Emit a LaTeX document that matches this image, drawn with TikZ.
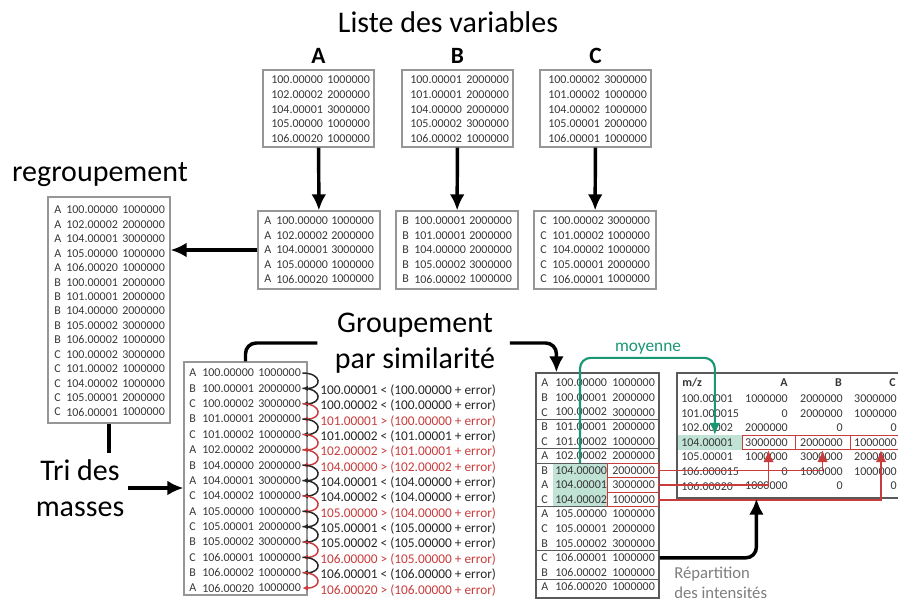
\documentclass[tikz,border=0pt]{standalone}
\usepackage{fontspec}
\setmainfont{Carlito}
\usetikzlibrary{arrows.meta, fit, calc, positioning}

\definecolor{boxgray}{RGB}{150,150,150}
\definecolor{darkbox}{RGB}{90,90,90}
\definecolor{txtgray}{RGB}{55,55,55}
\definecolor{errred}{RGB}{200,60,60}
\definecolor{moygreen}{RGB}{25,150,115}
\definecolor{moyfill}{RGB}{192,227,214}
\definecolor{notegray}{RGB}{125,125,125}

\tikzset{
  tbl/.style={draw=boxgray, line width=0.8pt, inner sep=0pt},
  tbldark/.style={draw=darkbox, line width=0.9pt, inner sep=0pt},
  cell/.style={font=\fontsize{9}{10}\selectfont, text=txtgray, inner sep=0pt, anchor=west},
  cellr/.style={cell, anchor=east},
  cellb/.style={font=\fontsize{9}{10}\bfseries\selectfont, text=txtgray, inner sep=0pt},
  cmp/.style={font=\fontsize{10}{11}\selectfont, inner sep=0pt, anchor=west},
  big/.style={font=\fontsize{22.5}{27}\selectfont, align=center, inner sep=3pt},
  head/.style={font=\fontsize{17.5}{20}\bfseries\selectfont},
  note/.style={font=\fontsize{12.5}{15}\selectfont, text=notegray, align=left, inner sep=0pt},
  redbox/.style={draw=errred, line width=0.6pt, inner sep=0pt},
  hilite/.style={fill=moyfill, inner sep=0pt},
  bigline/.style={line width=2.6pt},
  bigarrow/.style={bigline, -{Latex[length=12pt,width=11pt]}},
  curl/.style={line width=1.1pt, -{Latex[length=4pt,width=4pt]}},
  redarrow/.style={errred, line width=1.4pt, -{Latex[length=9pt,width=8pt]}},
  greenarrow/.style={moygreen, line width=1.6pt, -{Latex[length=9pt,width=8pt]}}
}

\begin{document}
\begin{tikzpicture}[x=0.75pt, y=-0.75pt]
  \useasboundingbox (0,0) rectangle (898,604);

  \node[big] (title) at (448,22) {Liste des variables};

  \foreach \t/\xa/\xb/\rows in {
      A/263/258/{100.00000/1000000, 102.00002/2000000, 104.00001/3000000, 105.00000/1000000, 106.00020/1000000},
      B/402/396/{100.00001/2000000, 101.00001/2000000, 104.00000/2000000, 105.00002/3000000, 106.00002/1000000},
      C/540/534/{100.00002/3000000, 101.00002/1000000, 104.00002/1000000, 105.00001/2000000, 106.00001/1000000}} {
    \node[head] (lab\t) at (\xa+55.5,56) {\t};
    \node[tbl, fit={(\xa,70) (\xa+111,147)}] (top\t) {};
    \node[tbl, fit={(\xb,211) (\xb+122,289)}] (mid\t) {};
    \foreach \m/\v [count=\i] in \rows {
      \node[cell] (top\t-m\i) at (\xa+8, 65.4+14.6*\i) {\m};
      \node[cell] (top\t-v\i) at (\xa+64, 65.4+14.6*\i) {\v};
      \node[cell] (mid\t-l\i) at (\xb+6, 206.5+14.5*\i) {\t};
      \node[cell] (mid\t-m\i) at (\xb+18, 206.5+14.5*\i) {\m};
      \node[cell] (mid\t-v\i) at (\xb+73, 206.5+14.5*\i) {\v};
    }
    \draw[bigarrow] (top\t) -- (mid\t);
  }

  \node[big] (regtitle) at (100,175) {regroupement};
  \node[tbl, fit={(48,197) (170,423)}] (regroup) {};
  \foreach \l/\m/\v [count=\i] in {A/100.00000/1000000, A/102.00002/2000000, A/104.00001/3000000, A/105.00000/1000000, A/106.00020/1000000,
      B/100.00001/2000000, B/101.00001/2000000, B/104.00000/2000000, B/105.00002/3000000, B/106.00002/1000000,
      C/100.00002/3000000, C/101.00002/1000000, C/104.00002/1000000, C/105.00001/2000000, C/106.00001/1000000} {
    \node[cell] (reg-l\i) at (54, 195.6+14.43*\i) {\l};
    \node[cell] (reg-m\i) at (66, 195.6+14.43*\i) {\m};
    \node[cell] (reg-v\i) at (122, 195.6+14.43*\i) {\v};
  }
  \draw[bigarrow] (midA.west) -- (midA.west -| regroup.east);
  \coordinate (regend) at (109,453);
  \draw[bigline] (regroup.south) -- (regend);

  \node[hilite, fit={(553,463.1) (607,506.9)}] (gmass) {};
  \node[tbl, fit={(184,362) (307,595)}] (sorted) {};
  \node[tbldark, fit={(536,373) (659,598)}] (grouped) {};
  \foreach \l/\m/\v [count=\i] in {A/100.00000/1000000, B/100.00001/2000000, C/100.00002/3000000, B/101.00001/2000000, C/101.00002/1000000,
      A/102.00002/2000000, B/104.00000/2000000, A/104.00001/3000000, C/104.00002/1000000, A/105.00000/1000000,
      C/105.00001/2000000, B/105.00002/3000000, C/106.00001/1000000, B/106.00002/1000000, A/106.00020/1000000} {
    \node[cell] (srt-l\i) at (189, 357.64+15.36*\i) {\l};
    \node[cell] (srt-m\i) at (202, 357.64+15.36*\i) {\m};
    \node[cell] (srt-v\i) at (258, 357.64+15.36*\i) {\v};
    \node[cell] (grp-l\i) at (541, 368.43+14.57*\i) {\l};
    \node[cell] (grp-m\i) at (555, 368.43+14.57*\i) {\m};
    \node[cell] (grp-v\i) at (612, 368.43+14.57*\i) {\v};
  }
  \foreach \k in {3,5,6,9,12,14}
    \draw[darkbox, line width=0.6pt] (536, 375.7+14.57*\k) -- (659, 375.7+14.57*\k);
  \foreach \k in {7,8,9}
    \node[redbox, fit={(607, 361.15+14.57*\k) (658, 375.72+14.57*\k)}] (rb\k) {};

  \node[big] (tri) at (80,488) {Tri des\\masses};
  \draw[bigarrow] (tri.east) -- (tri.east -| sorted.west);

  \foreach \c/\col [count=\i] in {{100.00001 < (100.00000 + error)}/black!85, {100.00002 < (100.00000 + error)}/black!85,
      {101.00001 > (100.00000 + error)}/errred, {101.00002 < (101.00001 + error)}/black!85,
      {102.00002 > (101.00001 + error)}/errred, {104.00000 > (102.00002 + error)}/errred,
      {104.00001 < (104.00000 + error)}/black!85, {104.00002 < (104.00000 + error)}/black!85,
      {105.00000 > (104.00000 + error)}/errred, {105.00001 < (105.00000 + error)}/black!85,
      {105.00002 < (105.00000 + error)}/black!85, {106.00000 > (105.00000 + error)}/errred,
      {106.00001 < (106.00000 + error)}/black!85, {106.00020 > (106.00000 + error)}/errred} {
    \pgfmathtruncatemacro\j{\i+1}
    \node[cmp, text=\col] (cmp\i) at (320, 375+15.36*\i) {\c};
    \draw[curl, \col] ([xshift=1pt]srt-v\i.east) .. controls +(15pt,0) and +(15pt,0) .. ([xshift=1pt]srt-v\j.east);
  }

  \node[big] (grptxt) at (415,343) {Groupement\\par similarité};
  \coordinate (grpin) at ($(grouped.north west)+(21,0)$);
  \draw[bigline, rounded corners=8pt] (sorted.north) |- ([xshift=-10pt]grptxt.west);
  \draw[bigarrow, rounded corners=8pt] ([xshift=8pt]grptxt.east) -| (grpin);

  \node[hilite, fit={(677,435.25) (742,449.75)}] (gmz) {};
  \node[tbldark, fit={(677,373) (912,498)}] (mztab) {};
  \node[cellb, anchor=west] (mzh) at (682,383) {m/z};
  \foreach \t/\x in {A/788, B/842, C/896}
    \node[cellb, anchor=east] (mzh\t) at (\x,383) {\t};
  \foreach \m/\a/\b/\c [count=\i] in {100.00001/1000000/2000000/3000000, 101.000015/0/2000000/1000000,
      102.00002/2000000/0/0, 104.00001/3000000/2000000/1000000, 105.00001/1000000/3000000/2000000,
      106.000015/0/1000000/1000000, 106.00020/1000000/0/0} {
    \node[cell] (mz-m\i) at (681, 384.5+14.5*\i) {\m};
    \node[cellr] (mz-a\i) at (788, 384.5+14.5*\i) {\a};
    \node[cellr] (mz-b\i) at (843, 384.5+14.5*\i) {\b};
    \node[cellr] (mz-c\i) at (897, 384.5+14.5*\i) {\c};
  }
  \node[redbox, fit={(742,435.25) (795,449.75)}] (mzrA) {};
  \node[redbox, fit={(795,435.25) (850,449.75)}] (mzrB) {};
  \node[redbox, fit={(850,435.25) (912,449.75)}] (mzrC) {};

  \draw[redarrow] (rb7.east) -| (mzrB.south);
  \draw[redarrow] (rb8.east) -| (mzrA.south);
  \draw[redarrow] (rb9.east) -| (mzrC.south);

  \node[font=\fontsize{13}{15}\selectfont, text=moygreen] (moy) at (648,349) {moyenne};
  \draw[greenarrow, rounded corners=8pt] (gmass.north) -- ++(0,-105) -| ([xshift=4pt]gmz.north);

  \coordinate (repin) at ($(mztab.south west)+(80,0)$);
  \draw[bigarrow, rounded corners=8pt] (grp-v13.east -| grouped.east) -| (repin);
  \node[note, anchor=west] (rep) at (674,583) {Répartition\\des intensités};
\end{tikzpicture}
\end{document}
